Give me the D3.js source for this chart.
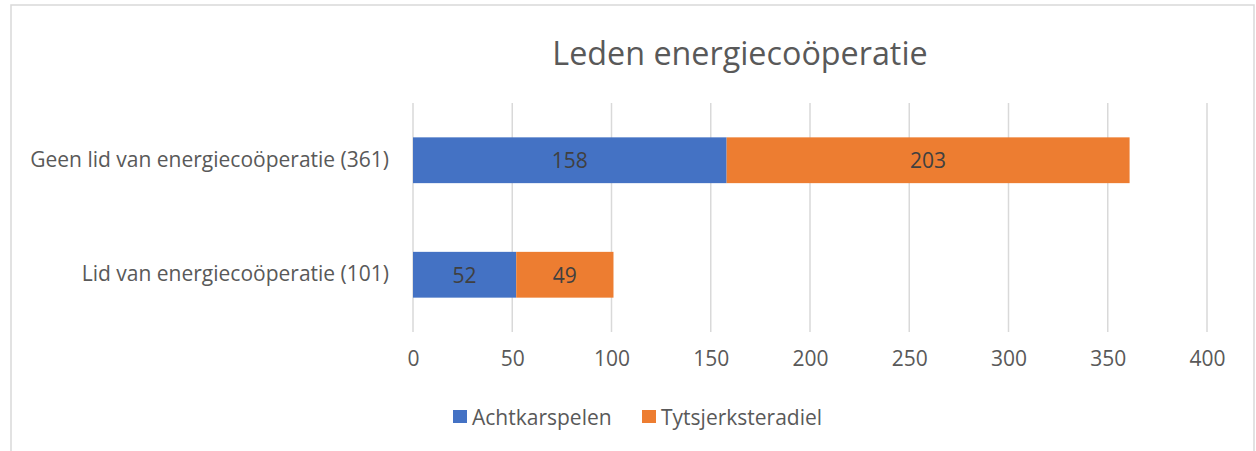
<!DOCTYPE html>
<html>
<head>
<meta charset="utf-8">
<script src="https://cdn.jsdelivr.net/npm/d3@7"></script>
<style>
  body { margin: 0; background: #fff; }
  text { font-family: "Open Sans", sans-serif; }
</style>
</head>
<body>
<script>
// data
var categories = ["Geen lid van energiecoöperatie (361)", "Lid van energiecoöperatie (101)"];
var seriesNames = ["Achtkarspelen", "Tytsjerksteradiel"];
var achtkarspelen = [158, 52];
var tytsjerksteradiel = [203, 49];
var xTicks = [0, 50, 100, 150, 200, 250, 300, 350, 400];
var colors = ["#4472c4", "#ed7d31"];

var width = 1256, height = 451;
var fs = "21px";

var svg = d3.select("body").append("svg")
    .attr("width", width)
    .attr("height", height);

// chart border
svg.append("rect")
    .attr("x", 11).attr("y", 5)
    .attr("width", 1243).attr("height", 460)
    .attr("fill", "#fff")
    .attr("stroke", "#d9d9d9")
    .attr("stroke-width", 1.5);

svg.append("text")
    .attr("x", 740).attr("y", 52)
    .attr("text-anchor", "middle")
    .attr("dominant-baseline", "central")
    .style("font-size", "32.3px")
    .style("fill", "#595959")
    .text("Leden energiecoöperatie");

var x = d3.scaleLinear().domain([0, 400]).range([413, 1207]);
var y = d3.scaleBand().domain(categories).range([103, 332])
    .paddingInner(0.6).paddingOuter(0.3);

// gridlines
svg.append("g").selectAll("line")
    .data(xTicks)
  .enter().append("line")
    .attr("x1", function(d) { return x(d); })
    .attr("x2", function(d) { return x(d); })
    .attr("y1", 103).attr("y2", 332)
    .attr("stroke", "#d9d9d9")
    .attr("stroke-width", 1.5);

// x axis labels
var xAxis = d3.axisBottom(x).tickValues(xTicks).tickSize(0).tickPadding(0);
var gx = svg.append("g").attr("transform", "translate(0,351)").call(xAxis);
gx.select(".domain").remove();
gx.selectAll("text")
    .style("font-family", "'Open Sans', sans-serif")
    .style("font-size", fs)
    .style("fill", "#595959");

// y axis labels
var yAxis = d3.axisLeft(y).tickSize(0).tickPadding(24);
var gy = svg.append("g").attr("transform", "translate(413,0)").call(yAxis);
gy.select(".domain").remove();
gy.selectAll("text")
    .style("font-family", "'Open Sans', sans-serif")
    .style("font-size", fs)
    .style("fill", "#595959");

// stacked bars
var rows = categories.map(function(c, i) {
  return { cat: c, Achtkarspelen: achtkarspelen[i], Tytsjerksteradiel: tytsjerksteradiel[i] };
});
var stack = d3.stack().keys(seriesNames)(rows);

var layer = svg.append("g").selectAll("g")
    .data(stack)
  .enter().append("g")
    .attr("fill", function(d, i) { return colors[i]; });

layer.selectAll("rect")
    .data(function(d) { return d; })
  .enter().append("rect")
    .attr("x", function(d) { return x(d[0]); })
    .attr("y", function(d) { return y(d.data.cat); })
    .attr("width", function(d) { return x(d[1]) - x(d[0]); })
    .attr("height", y.bandwidth());

layer.selectAll("text")
    .data(function(d) { return d; })
  .enter().append("text")
    .attr("x", function(d) { return (x(d[0]) + x(d[1])) / 2; })
    .attr("y", function(d) { return y(d.data.cat) + y.bandwidth() / 2; })
    .attr("text-anchor", "middle")
    .attr("dominant-baseline", "central")
    .style("font-size", fs)
    .style("fill", "#404040")
    .text(function(d) { return d[1] - d[0]; });

// legend
var legendX = [453, 642];
var legend = svg.append("g").selectAll("g")
    .data(seriesNames)
  .enter().append("g")
    .attr("transform", function(d, i) { return "translate(" + legendX[i] + ",410)"; });
legend.append("rect")
    .attr("width", 14).attr("height", 13)
    .attr("fill", function(d, i) { return colors[i]; });
legend.append("text")
    .attr("x", 19).attr("y", 6.5)
    .attr("dominant-baseline", "central")
    .style("font-size", fs)
    .style("fill", "#595959")
    .text(function(d) { return d; });
</script>
</body>
</html>
